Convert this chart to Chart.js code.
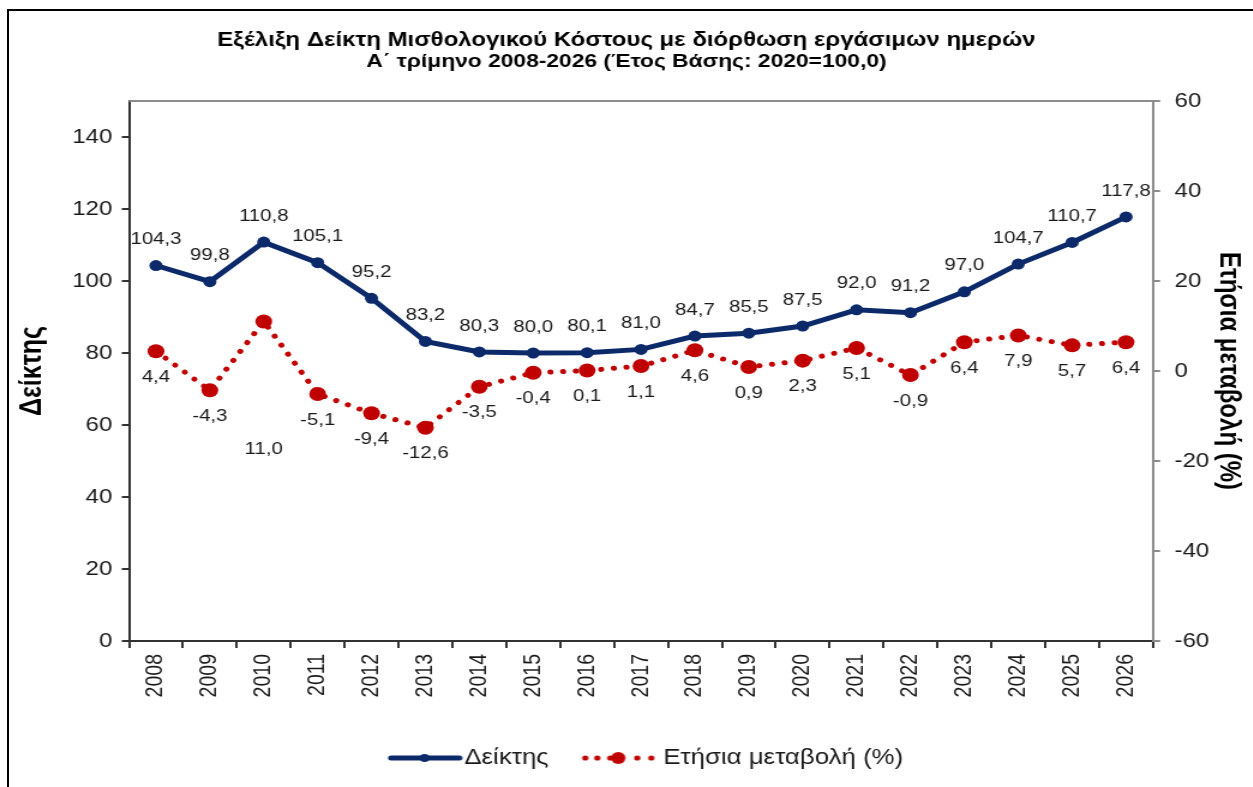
<!DOCTYPE html>
<html lang="el">
<head>
<meta charset="utf-8">
<title>Εξέλιξη Δείκτη Μισθολογικού Κόστους</title>
<script src="https://cdn.jsdelivr.net/npm/chart.js@4.4.1/dist/chart.umd.min.js"></script>
<style>
  html, body { margin: 0; padding: 0; background: #fff; overflow: hidden; }
  body { width: 1253px; height: 787px; position: relative; }
  .frame {
    position: absolute; left: 7px; top: 9px; width: 1400px; height: 900px;
    border-top: 2px solid #000; border-left: 2px solid #000;
  }
  /* the source picture is stretched sideways, so the canvas is too */
  #wrap {
    position: absolute; left: 0; top: 0; width: 1044px; height: 787px;
    transform: scaleX(1.2); transform-origin: 0 0;
  }
</style>
</head>
<body>
<div class="frame"></div>
<div id="wrap"><canvas id="lcChart" width="1044" height="787"></canvas></div>
<script>
const years = ["2008", "2009", "2010", "2011", "2012", "2013", "2014", "2015", "2016", "2017",
  "2018", "2019", "2020", "2021", "2022", "2023", "2024", "2025", "2026"];
const indexValues = [104.3, 99.8, 110.8, 105.1, 95.2, 83.2, 80.3, 80.0, 80.1, 81.0,
  84.7, 85.5, 87.5, 92.0, 91.2, 97.0, 104.7, 110.7, 117.8];
const annualChange = [4.4, -4.3, 11.0, -5.1, -9.4, -12.6, -3.5, -0.4, 0.1, 1.1,
  4.6, 0.9, 2.3, 5.1, -0.9, 6.4, 7.9, 5.7, 6.4];
const leftTicks = [0, 20, 40, 60, 80, 100, 120, 140];
const rightTicks = [-60, -40, -20, 0, 20, 40, 60];

const FONT = '"Liberation Sans", Arial, sans-serif';
const NAVY = "#0c2a6a";
const RED = "#c00000";
const TEXT = "#1a1a1a";

function fmt(v) {
  return v.toFixed(1).replace(".", ",");
}

function makeIcon(w, h, draw) {
  const c = document.createElement("canvas");
  c.width = w;
  c.height = h;
  draw(c.getContext("2d"));
  return c;
}

// legend swatches, wider than the box so they can sit where the source has them
const legendIcons = [
  makeIcon(104, 16, (g) => {
    g.strokeStyle = NAVY;
    g.lineWidth = 5;
    g.lineCap = "round";
    g.beginPath();
    g.moveTo(44, 8);
    g.lineTo(101, 8);
    g.stroke();
    g.fillStyle = NAVY;
    g.beginPath();
    g.arc(72, 8, 4, 0, Math.PI * 2);
    g.fill();
  }),
  makeIcon(104, 16, (g) => {
    g.fillStyle = RED;
    [40.1, 50.1, 60.9, 83.4, 95.1].forEach((x) => {
      g.beginPath();
      g.arc(x, 8, 2.6, 0, Math.PI * 2);
      g.fill();
    });
    g.beginPath();
    g.arc(67.6, 8, 6, 0, Math.PI * 2);
    g.fill();
  }),
];

// value labels: index above its point, change below
const valueLabels = {
  id: "valueLabels",
  afterDatasetsDraw(chart, args, opts) {
    const ctx = chart.ctx;
    ctx.save();
    ctx.font = `17px ${FONT}`;
    ctx.fillStyle = TEXT;
    ctx.textAlign = "center";
    ctx.textBaseline = "middle";
    chart.data.datasets.forEach((ds, i) => {
      const moved = (opts.moved && opts.moved[i]) || {};
      chart.getDatasetMeta(i).data.forEach((pt, j) => {
        const dy = moved[j] != null ? moved[j] : i === 0 ? -26 : 26;
        ctx.fillText(fmt(ds.data[j]), pt.x, pt.y + dy);
      });
    });
    ctx.restore();
  },
};

const plotTop = {
  id: "plotTop",
  beforeDatasetsDraw(chart) {
    const { left, right, top } = chart.chartArea;
    const ctx = chart.ctx;
    ctx.save();
    ctx.strokeStyle = "#8c8c8c";
    ctx.lineWidth = 2;
    ctx.beginPath();
    ctx.moveTo(left, top);
    ctx.lineTo(right, top);
    ctx.stroke();
    ctx.restore();
  },
};

new Chart(document.getElementById("lcChart"), {
  type: "line",
  data: {
    labels: years,
    datasets: [
      {
        label: "Δείκτης",
        data: indexValues,
        yAxisID: "y",
        borderColor: NAVY,
        backgroundColor: NAVY,
        borderWidth: 5,
        pointRadius: 5.5,
        pointBorderWidth: 0,
        pointBackgroundColor: NAVY,
        tension: 0,
      },
      {
        label: "Ετήσια μεταβολή (%)",
        data: annualChange,
        yAxisID: "y1",
        borderColor: RED,
        backgroundColor: RED,
        borderWidth: 5,
        borderDash: [0.1, 10.5],
        borderCapStyle: "round",
        pointRadius: 7,
        pointBorderWidth: 0,
        pointBackgroundColor: RED,
        tension: 0,
      },
    ],
  },
  options: {
    responsive: false,
    animation: false,
    layout: { padding: { top: 0, left: 0, right: 0, bottom: 8.25 } },
    plugins: {
      title: {
        display: true,
        text: "Εξέλιξη Δείκτη Μισθολογικού Κόστους με διόρθωση εργάσιμων ημερών",
        color: "#000",
        font: { family: FONT, size: 20, weight: "bold", lineHeight: "22px" },
        padding: { top: 29, bottom: 0 },
      },
      subtitle: {
        display: true,
        text: "Α΄ τρίμηνο 2008-2026 (Έτος Βάσης: 2020=100,0)",
        color: "#000",
        font: { family: FONT, size: 19, weight: "bold", lineHeight: "22px" },
        padding: { top: 0, bottom: 28 },
      },
      legend: {
        position: "bottom",
        labels: {
          usePointStyle: true,
          pointStyleWidth: 84.75,
          padding: 0,
          color: TEXT,
          font: { family: FONT, size: 21.5 },
          generateLabels: (chart) =>
            chart.data.datasets.map((ds, i) => ({
              text: ds.label,
              datasetIndex: i,
              pointStyle: legendIcons[i],
              fillStyle: "transparent",
              strokeStyle: "transparent",
              lineWidth: 0,
              hidden: false,
              fontColor: TEXT,
            })),
        },
      },
      tooltip: { enabled: false },
      // the 2010 change label sits lower in the source
      valueLabels: { moved: { 1: { 2: 128 } } },
    },
    scales: {
      x: {
        offset: true,
        grid: { offset: true, drawOnChartArea: false, tickLength: 7, color: "#333", lineWidth: 2 },
        border: { color: "#333", width: 2 },
        ticks: {
          autoSkip: false,
          minRotation: 90,
          maxRotation: 90,
          padding: 6,
          color: TEXT,
          font: { family: FONT, size: 19.5 },
        },
        afterFit: (s) => {
          s.height = 106.25;
        },
      },
      y: {
        position: "left",
        min: 0,
        max: 150,
        afterBuildTicks: (ax) => {
          ax.ticks = leftTicks.map((v) => ({ value: v }));
        },
        grid: { drawOnChartArea: false, tickLength: 6, color: "#333", lineWidth: 2 },
        border: { color: "#333", width: 2 },
        ticks: { padding: 8, color: TEXT, font: { family: FONT, size: 20 } },
        title: {
          display: true,
          text: "Δείκτης",
          color: "#000",
          font: { family: FONT, size: 25, weight: "bold" },
          padding: { top: 12.5, bottom: 0 },
        },
        afterFit: (s) => {
          s.width = 107.5;
        },
      },
      y1: {
        position: "right",
        min: -60,
        max: 60,
        afterBuildTicks: (ax) => {
          ax.ticks = rightTicks.map((v) => ({ value: v }));
        },
        grid: { drawOnChartArea: false, tickLength: 6, color: "#8c8c8c", lineWidth: 2 },
        border: { color: "#8c8c8c", width: 2 },
        ticks: { padding: 12, color: TEXT, font: { family: FONT, size: 20 } },
        title: {
          display: true,
          text: "Ετήσια μεταβολή (%)",
          color: "#000",
          font: { family: FONT, size: 24, weight: "bold" },
          padding: { top: 6, bottom: 0 },
        },
        afterFit: (s) => {
          s.width = 83.2;
        },
      },
    },
  },
  plugins: [plotTop, valueLabels],
});
</script>
</body>
</html>
